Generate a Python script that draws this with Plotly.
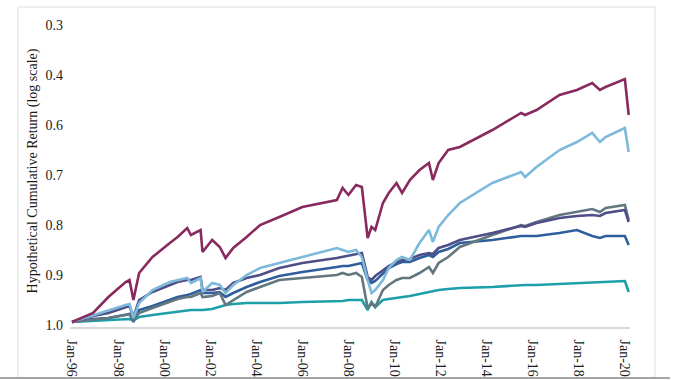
import plotly.graph_objects as go

dates = ["1996-01-01","1996-12-01","1997-08-01","1998-05-01","1998-07-01","1998-09-01","1998-12-01",
         "1999-07-01","2000-04-01","2000-08-01","2001-01-01","2001-03-01","2001-08-01","2001-09-01",
         "2002-02-01","2002-06-01","2002-09-01","2003-01-01","2003-08-01","2004-03-01","2005-01-01",
         "2006-01-01","2007-07-01","2007-10-01","2008-01-01","2008-05-01","2008-08-01","2008-11-01",
         "2009-01-01","2009-03-01","2009-07-01","2009-10-01","2010-02-01","2010-05-01","2010-09-01",
         "2011-02-01","2011-07-01","2011-09-01","2011-12-01","2012-05-01","2012-11-01","2014-04-01",
         "2015-07-01","2015-09-01","2016-03-01","2017-03-01","2017-12-01","2018-08-01","2018-12-01",
         "2019-03-01","2020-01-01","2020-03-01"]

maroon = [0.994,0.976,0.944,0.914,0.910,0.950,0.896,0.864,0.836,0.824,0.806,0.820,0.810,0.854,
          0.830,0.844,0.866,0.846,0.824,0.800,0.784,0.764,0.750,0.726,0.740,0.720,0.724,0.826,
          0.804,0.810,0.756,0.736,0.716,0.736,0.710,0.690,0.676,0.710,0.676,0.650,0.644,0.610,
          0.576,0.580,0.570,0.540,0.530,0.516,0.530,0.524,0.508,0.580]

light_blue = [0.994,0.980,0.970,0.960,0.958,0.986,0.956,0.930,0.914,0.910,0.906,0.916,0.906,0.934,
              0.916,0.920,0.936,0.920,0.900,0.886,0.876,0.864,0.846,0.850,0.854,0.850,0.864,0.910,
              0.936,0.930,0.910,0.886,0.870,0.864,0.870,0.836,0.810,0.834,0.804,0.780,0.756,0.716,
              0.694,0.704,0.684,0.650,0.634,0.616,0.634,0.624,0.606,0.654]

purple = [0.994,0.982,0.976,0.964,0.962,0.984,0.950,0.934,0.920,0.914,0.910,0.910,0.904,0.930,
          0.930,0.926,0.930,0.916,0.906,0.900,0.886,0.876,0.866,0.864,0.862,0.858,0.856,0.904,
          0.910,0.902,0.890,0.882,0.874,0.870,0.868,0.860,0.856,0.858,0.846,0.840,0.830,0.816,
          0.802,0.804,0.796,0.786,0.782,0.780,0.782,0.776,0.770,0.794]

gray = [0.994,0.990,0.986,0.980,0.978,0.990,0.976,0.966,0.954,0.948,0.944,0.944,0.936,0.944,
        0.942,0.936,0.960,0.950,0.934,0.924,0.910,0.906,0.900,0.896,0.900,0.896,0.904,0.966,
        0.956,0.964,0.930,0.920,0.910,0.906,0.906,0.896,0.884,0.896,0.876,0.864,0.844,0.820,
        0.800,0.802,0.794,0.780,0.774,0.768,0.774,0.766,0.760,0.790]

blue = [0.994,0.988,0.986,0.980,0.978,0.994,0.970,0.962,0.950,0.944,0.940,0.938,0.930,0.936,
        0.936,0.934,0.944,0.936,0.924,0.914,0.902,0.894,0.884,0.882,0.882,0.878,0.876,0.910,
        0.916,0.912,0.896,0.886,0.878,0.874,0.874,0.866,0.860,0.864,0.854,0.848,0.836,0.830,
        0.822,0.822,0.822,0.816,0.810,0.822,0.826,0.822,0.822,0.840]

teal = [0.994,0.992,0.990,0.988,0.988,0.990,0.984,0.980,0.976,0.974,0.972,0.970,0.970,0.970,
        0.968,0.964,0.960,0.958,0.956,0.956,0.956,0.954,0.952,0.952,0.950,0.950,0.950,0.970,
        0.954,0.964,0.950,0.948,0.946,0.944,0.942,0.938,0.934,0.932,0.930,0.928,0.926,0.924,
        0.920,0.920,0.920,0.918,0.916,0.914,0.914,0.914,0.912,0.934]

y_tickvals = [1.0, 0.9, 0.8, 0.7, 0.6, 0.5, 0.4]
y_ticktext = ["1.0", "0.9", "0.8", "0.7", "0.6", "0.4", "0.3"]

series = [
    (teal, "#1c9fa8"),
    (blue, "#2f5e9c"),
    (gray, "#627780"),
    (purple, "#4f4e87"),
    (light_blue, "#7db9da"),
    (maroon, "#892a5e"),
]

fig = go.Figure()
for vals, col in series:
    fig.add_trace(go.Scatter(x=dates, y=vals, mode="lines",
                             line=dict(color=col, width=2.6), showlegend=False))

serif = "Liberation Serif"
fig.update_layout(
    width=680, height=380,
    margin=dict(l=70, r=50, t=15, b=53),
    plot_bgcolor="white", paper_bgcolor="white",
    font=dict(family=serif, size=14, color="#1a1a1a"),
    xaxis=dict(type="date", range=["1995-12-01", "2020-03-22"],
               tick0="1996-01-01", dtick="M24", tickformat="%b-%y",
               tickangle=90, showgrid=False, zeroline=False, automargin=False,
               showline=True, linecolor="#d9d9d9", linewidth=1.5,
               ticks="", ticklabelstandoff=8,
               tickfont=dict(family=serif, size=14, color="#1a1a1a")),
    yaxis=dict(range=[1.004, 0.38], tickvals=y_tickvals, ticktext=y_ticktext,
               showgrid=False, zeroline=False, showline=False, ticks="",
               automargin=False, ticklabelstandoff=6,
               tickfont=dict(family=serif, size=14, color="#1a1a1a"),
               title=dict(text="Hypothetical Cumulative Return (log scale)",
                          font=dict(family=serif, size=14, color="#1a1a1a"), standoff=4)),
    shapes=[
        dict(type="rect", xref="paper", yref="paper",
             x0=-0.0929, x1=1.0446, y0=-0.1635, y1=1.0256,
             line=dict(color="#dedede", width=1), layer="below"),
        dict(type="line", xref="paper", yref="paper",
             x0=-0.125, x1=1.0714, y0=-0.1635, y1=-0.1635,
             line=dict(color="#8a8a8a", width=1.5)),
    ],
)

fig.write_html("out.html", config={"displayModeBar": False},
               post_script="document.body.style.margin='0';document.body.style.overflow='hidden';")
